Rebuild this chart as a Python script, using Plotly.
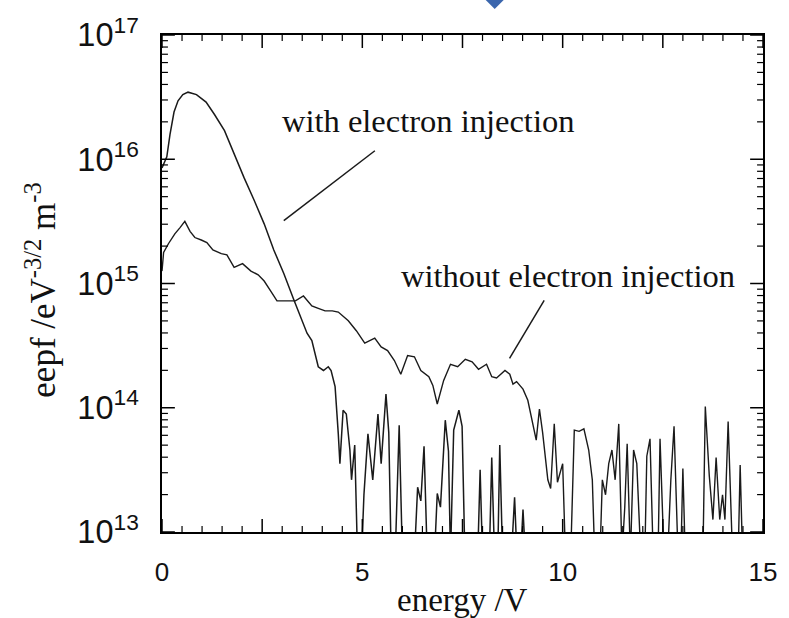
import math
import plotly.graph_objects as go

# ---- data (energy in V, eepf as log10 exponent) ----
energy_with = [0.00, 0.12, 0.20, 0.30, 0.40, 0.52, 0.65, 0.86, 1.10, 1.31, 1.56, 1.80, 2.05, 2.30,
               2.55, 2.79, 3.04, 3.29, 3.49, 3.62, 3.74, 3.82, 3.90, 4.03, 4.15, 4.22, 4.32, 4.40,
               4.44, 4.52, 4.60, 4.69, 4.73, 4.81, 4.88, 4.98, 5.04, 5.14, 5.26, 5.39, 5.47, 5.59,
               5.66, 5.72, 5.82, 5.92, 6.00, 6.30, 6.38, 6.46, 6.54, 6.62, 6.80, 6.87, 6.95, 7.07,
               7.15, 7.20, 7.28, 7.41, 7.49, 7.56, 7.88, 7.94, 8.00, 8.17, 8.23, 8.30, 8.38, 8.43,
               8.50, 8.72, 8.80, 8.86, 8.95, 9.01, 9.07]
eepf_with_exp = [15.93, 16.02, 16.20, 16.38, 16.47, 16.52, 16.54, 16.52, 16.46, 16.36, 16.23, 16.04,
                 15.85, 15.67, 15.48, 15.27, 15.08, 14.87, 14.70, 14.60, 14.54, 14.44, 14.33, 14.30,
                 14.33, 14.30, 14.17, 13.79, 13.55, 13.98, 13.95, 13.66, 13.42, 13.70, 12.8, 12.8,
                 13.30, 13.79, 13.42, 13.95, 13.55, 14.11, 13.80, 12.8, 12.8, 13.86, 12.8, 12.8,
                 13.36, 13.25, 13.69, 12.8, 12.8, 13.31, 13.20, 13.90, 13.65, 12.8, 13.82, 13.98,
                 13.85, 12.8, 12.8, 13.50, 12.8, 12.8, 13.60, 12.8, 12.8, 13.70, 12.8, 12.8, 13.28,
                 12.8, 12.8, 13.18, 12.8]

energy_without = [0.00, 0.04, 0.16, 0.32, 0.45, 0.57, 0.70, 0.82, 0.98, 1.12, 1.27, 1.48, 1.62, 1.80,
                  2.01, 2.22, 2.40, 2.55, 2.71, 2.87, 3.12, 3.33, 3.53, 3.74, 3.90, 4.07, 4.25, 4.40,
                  4.65, 4.85, 5.06, 5.31, 5.47, 5.63, 5.80, 5.96, 6.13, 6.30, 6.46, 6.66, 6.76, 6.87,
                  7.03, 7.20, 7.38, 7.57, 7.74, 7.90, 8.10, 8.23, 8.35, 8.56, 8.68, 8.76, 8.85, 9.01,
                  9.13, 9.26, 9.34, 9.42, 9.50, 9.63, 9.70, 9.79, 9.87, 10.00, 10.07, 10.20, 10.29,
                  10.41, 10.53, 10.65, 10.74, 10.80, 10.93, 10.99, 11.07, 11.15, 11.23, 11.31, 11.40,
                  11.48, 11.55, 11.61, 11.69, 11.77, 11.85, 11.95, 12.05, 12.10, 12.18, 12.26, 12.38,
                  12.43, 12.53, 12.62, 12.70, 12.78, 12.88, 12.95, 13.00, 13.06, 13.50, 13.56, 13.66,
                  13.75, 13.83, 13.92, 13.99, 14.05, 14.13, 14.24, 14.38, 14.43, 14.49, 15.00]
eepf_without_exp = [15.10, 15.25, 15.32, 15.40, 15.45, 15.50, 15.42, 15.37, 15.35, 15.33, 15.27, 15.24,
                    15.23, 15.13, 15.16, 15.10, 15.07, 15.02, 14.94, 14.86, 14.86, 14.86, 14.90, 14.82,
                    14.80, 14.78, 14.78, 14.77, 14.70, 14.62, 14.52, 14.56, 14.49, 14.46, 14.38, 14.27,
                    14.42, 14.41, 14.30, 14.25, 14.18, 14.03, 14.22, 14.35, 14.33, 14.39, 14.37, 14.31,
                    14.35, 14.25, 14.24, 14.30, 14.27, 14.19, 14.21, 14.15, 14.06, 13.85, 13.74, 13.99,
                    13.80, 13.42, 13.35, 13.87, 13.40, 13.55, 12.8, 12.8, 13.82, 13.81, 13.83, 13.66,
                    13.42, 12.8, 12.8, 13.42, 13.30, 13.55, 13.66, 13.42, 13.87, 12.8, 13.20, 13.71,
                    12.8, 13.66, 13.55, 12.8, 12.8, 13.61, 13.75, 12.8, 12.8, 13.75, 12.8, 12.8, 13.42,
                    13.85, 12.8, 12.8, 13.51, 12.8, 12.8, 14.01, 13.45, 13.10, 13.60, 13.10, 13.30,
                    13.10, 13.89, 12.8, 12.8, 13.54, 12.8, 12.8]

x_range = [0, 15]
y_range_exp = [13, 17]
x_label_step = 5
x_major_step = 2.5
x_minor_step = 0.5

label_with = "with electron injection"
label_without = "without electron injection"
x_title = "energy /V"
y_title = "eepf /eV<sup>-3/2</sup> m<sup>-3</sup>"

LINE = "#1a1a1a"
SERIF = "Liberation Serif, Times New Roman, serif"
SANS = "Liberation Sans, Arial, sans-serif"

fig = go.Figure()
fig.add_trace(go.Scatter(x=energy_with, y=[10 ** v for v in eepf_with_exp], mode="lines",
                         line=dict(color=LINE, width=1.5), name=label_with, showlegend=False))
fig.add_trace(go.Scatter(x=energy_without, y=[10 ** v for v in eepf_without_exp], mode="lines",
                         line=dict(color=LINE, width=1.4), name=label_without, showlegend=False))

fig.update_layout(
    xaxis=dict(range=x_range, dtick=x_label_step, tick0=0, ticks="",
               tickfont=dict(family=SANS, size=26, color="#111"), ticklabelstandoff=16,
               showline=True, linecolor="black", linewidth=2, mirror=True,
               showgrid=False, zeroline=False),
    yaxis=dict(type="log", range=y_range_exp, dtick=1, exponentformat="power", ticks="",
               tickfont=dict(family=SANS, size=26, color="#111"), ticklabelstandoff=16,
               showline=True, linecolor="black", linewidth=2, mirror=True,
               showgrid=False, zeroline=False),
)

W, H = 789, 618
L, R, T, B = 162, 20, 34, 86
pw, ph = W - L - R, H - T - B


def px(xp):
    return (xp - L) / pw


def py(yp):
    return (H - B - yp) / ph


annos = [
    dict(text=label_with, x=px(431), y=py(120), font=dict(family=SERIF, size=32.5, color="#111")),
    dict(text=label_without, x=px(572), y=py(275), font=dict(family=SERIF, size=32.5, color="#111")),
    dict(text=x_title, x=px(466), y=py(600), font=dict(family=SERIF, size=33, color="#111")),
    dict(text=y_title, x=px(40), y=py(290), textangle=-90, font=dict(family=SERIF, size=35, color="#111")),
]
for a in annos:
    a.update(xref="paper", yref="paper", showarrow=False, xanchor="center", yanchor="middle")

shapes = [
    dict(type="line", xref="paper", yref="paper", x0=px(377), y0=py(150), x1=px(285), y1=py(220),
         line=dict(color=LINE, width=1.5)),
    dict(type="line", xref="paper", yref="paper", x0=px(548), y0=py(300), x1=px(513), y1=py(358),
         line=dict(color=LINE, width=1.5)),
    dict(type="path", xref="paper", yref="paper",
         path=f"M {px(498)} {py(8)} L {px(511)} {py(-5)} L {px(498)} {py(-18)} L {px(485)} {py(-5)} Z",
         fillcolor="#3b66ad", line=dict(color="#3b66ad", width=0)),
]

# inside tick marks on all four sides (axis positions derived from the axis ranges)
MAJ, MIN = 13, 6
n_x = int(round((x_range[1] - x_range[0]) / x_minor_step))
for i in range(n_x + 1):
    xv = x_range[0] + i * x_minor_step
    is_major = abs(xv / x_major_step - round(xv / x_major_step)) < 1e-9
    ln = (MAJ if is_major else MIN) / ph
    for base, sgn in ((0, 1), (1, -1)):
        shapes.append(dict(type="line", xref="x", yref="paper", x0=xv, x1=xv, y0=base, y1=base + sgn * ln,
                           line=dict(color="black", width=1.5 if is_major else 1.2), layer="above"))

for dec in range(y_range_exp[0], y_range_exp[1] + 1):
    for k in range(1, 10):
        if dec == y_range_exp[1] and k > 1:
            break
        pos = (dec + math.log10(k) - y_range_exp[0]) / (y_range_exp[1] - y_range_exp[0])
        ln = (MAJ if k == 1 else MIN) / pw
        for base, sgn in ((0, 1), (1, -1)):
            shapes.append(dict(type="line", xref="paper", yref="paper", x0=base, x1=base + sgn * ln,
                               y0=pos, y1=pos,
                               line=dict(color="black", width=1.5 if k == 1 else 1.2), layer="above"))

fig.update_layout(width=W, height=H, margin=dict(l=L, r=R, t=T, b=B, pad=0),
                  paper_bgcolor="white", plot_bgcolor="white",
                  annotations=annos, shapes=shapes, showlegend=False)

fig.write_html("out.html")
